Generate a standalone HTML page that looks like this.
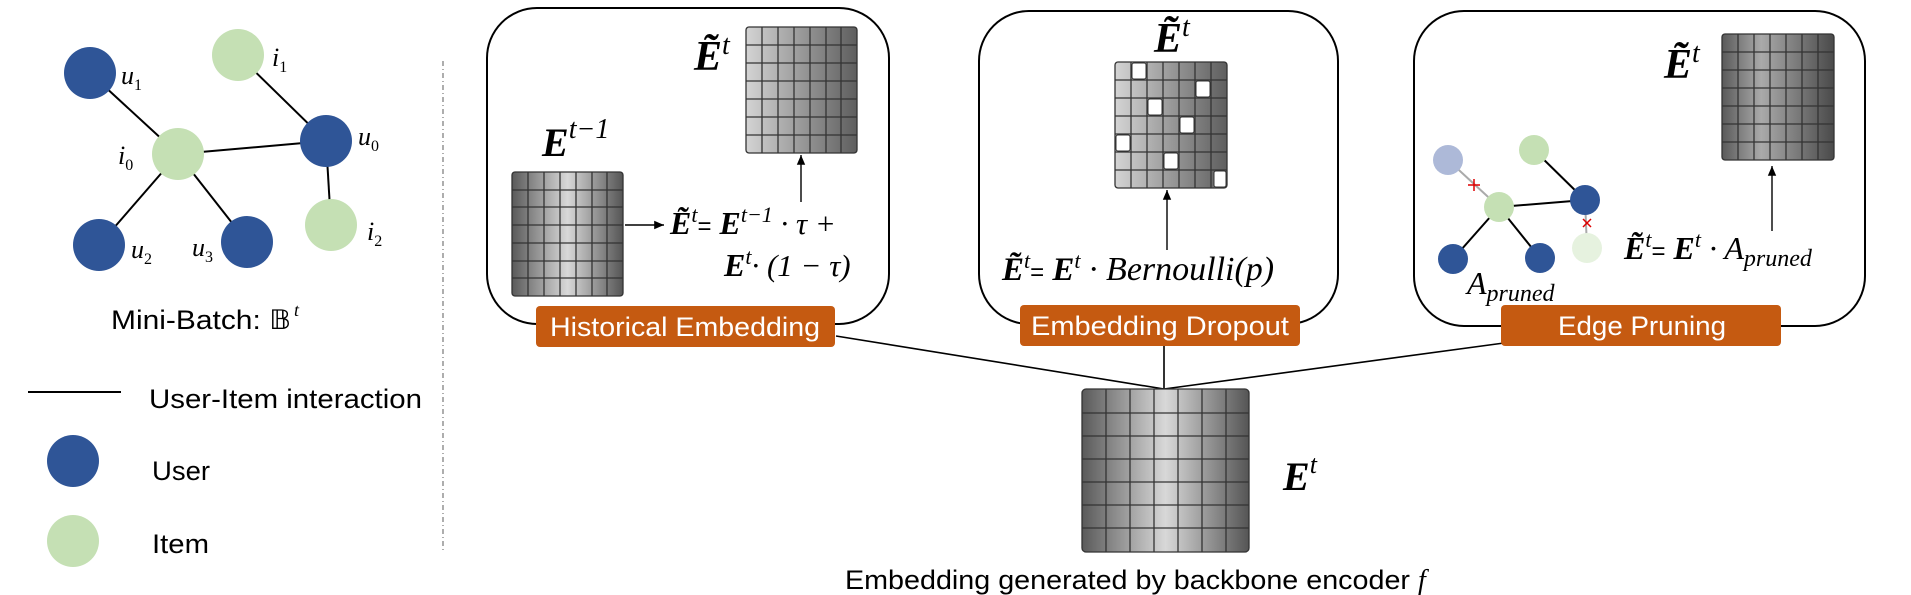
<!DOCTYPE html>
<html><head><meta charset="utf-8"><style>
html,body{margin:0;padding:0;background:#fff;}
svg{display:block;}
.s{font-family:"Liberation Sans",sans-serif;}
.m{font-family:"Liberation Serif",serif;font-style:italic;}
.b{font-family:"Liberation Serif",serif;font-style:italic;font-weight:bold;}
</style></head><body>
<svg width="1911" height="595" viewBox="0 0 1911 595" xmlns="http://www.w3.org/2000/svg">
<defs>
<linearGradient id="gC" x1="0" x2="1" y1="0" y2="0">
<stop offset="0" stop-color="#5a5a5a"/><stop offset="0.5" stop-color="#d8d8d8"/><stop offset="1" stop-color="#555"/></linearGradient>
<linearGradient id="gR" x1="0" x2="1" y1="0" y2="0">
<stop offset="0" stop-color="#d4d4d4"/><stop offset="1" stop-color="#5e5e5e"/></linearGradient>
<linearGradient id="gD" x1="0" x2="1" y1="0" y2="0">
<stop offset="0" stop-color="#5a5a5a"/><stop offset="0.35" stop-color="#aaa"/><stop offset="1" stop-color="#4a4a4a"/></linearGradient>
<marker id="ar" markerWidth="8" markerHeight="8" refX="7" refY="4" orient="auto"><path d="M0,1 L7,4 L0,7 z" fill="#000"/></marker>
</defs>

<!-- left graph -->
<g stroke="#000" stroke-width="2">
<line x1="90" y1="73" x2="178" y2="154"/><line x1="238" y1="55" x2="326" y2="141"/>
<line x1="178" y1="154" x2="326" y2="141"/><line x1="178" y1="154" x2="99" y2="245"/>
<line x1="178" y1="154" x2="247" y2="242"/><line x1="326" y1="141" x2="331" y2="225"/>
</g>
<g fill="#2f5597">
<circle cx="90" cy="73" r="26"/><circle cx="326" cy="141" r="26"/><circle cx="99" cy="245" r="26"/><circle cx="247" cy="242" r="26"/>
<circle cx="73" cy="461" r="26"/></g>
<g fill="#c5e0b4">
<circle cx="238" cy="55" r="26"/><circle cx="178" cy="154" r="26"/><circle cx="331" cy="225" r="26"/><circle cx="73" cy="541" r="26"/></g>
<g class="m" font-size="26">
<text x="121" y="84">u<tspan font-size="16" font-style="normal" dy="6">1</tspan></text>
<text x="272" y="66">i<tspan font-size="16" font-style="normal" dy="6">1</tspan></text>
<text x="118" y="164">i<tspan font-size="16" font-style="normal" dy="6">0</tspan></text>
<text x="358" y="145">u<tspan font-size="16" font-style="normal" dy="6">0</tspan></text>
<text x="131" y="258">u<tspan font-size="16" font-style="normal" dy="6">2</tspan></text>
<text x="192" y="256">u<tspan font-size="16" font-style="normal" dy="6">3</tspan></text>
<text x="367" y="240">i<tspan font-size="16" font-style="normal" dy="6">2</tspan></text>
</g>
<text class="s" x="111" y="329" font-size="27" textLength="180" lengthAdjust="spacingAndGlyphs">Mini-Batch: 𝔹</text>
<text class="m" x="294" y="316" font-size="18">t</text>
<line x1="28" y1="392" x2="121" y2="392" stroke="#000" stroke-width="2"/>
<text class="s" x="149" y="408" font-size="27" textLength="273" lengthAdjust="spacingAndGlyphs">User-Item interaction</text>
<text class="s" x="152" y="480" font-size="27" textLength="58" lengthAdjust="spacingAndGlyphs">User</text>
<text class="s" x="152" y="553" font-size="27" textLength="57" lengthAdjust="spacingAndGlyphs">Item</text>
<line x1="443" y1="61" x2="443" y2="550" stroke="#777" stroke-width="1.2" stroke-dasharray="5,3,1,3"/>

<!-- boxes -->
<g fill="none" stroke="#000" stroke-width="2">
<rect x="487" y="8" width="402" height="316" rx="50"/>
<rect x="979" y="11" width="359" height="313" rx="50"/>
<rect x="1414" y="11" width="451" height="315" rx="50"/>
</g>
<!-- connectors -->
<g stroke="#000" stroke-width="1.6">
<line x1="836" y1="336" x2="1164" y2="389"/>
<line x1="1164" y1="346" x2="1164" y2="389"/>
<line x1="1504" y1="343" x2="1164" y2="389"/>
</g>
<!-- labels -->
<g fill="#c55a11">
<rect x="536" y="306" width="299" height="41" rx="4"/>
<rect x="1020" y="305" width="280" height="41" rx="4"/>
<rect x="1501" y="305" width="280" height="41" rx="4"/>
</g>
<g class="s" fill="#fff" font-size="27" lengthAdjust="spacingAndGlyphs">
<text x="550" y="336" textLength="270" lengthAdjust="spacingAndGlyphs">Historical Embedding</text>
<text x="1031" y="335" textLength="258" lengthAdjust="spacingAndGlyphs">Embedding Dropout</text>
<text x="1558" y="335" textLength="168" lengthAdjust="spacingAndGlyphs">Edge Pruning</text>
</g>

<g stroke="#333" stroke-width="1.3">
<rect x="512" y="172" width="111" height="124" rx="3" fill="url(#gC)"/>
<path d="M512 190H623M512 207H623M512 225H623M512 243H623M512 261H623M512 278H623M528 172V296M544 172V296M560 172V296M576 172V296M592 172V296M607 172V296" fill="none"/>
<rect x="746" y="27" width="111" height="126" rx="3" fill="url(#gR)"/>
<path d="M746 45H857M746 63H857M746 81H857M746 99H857M746 117H857M746 135H857M762 27V153M778 27V153M794 27V153M810 27V153M826 27V153M841 27V153" fill="none"/>
<rect x="1115" y="62" width="112" height="126" rx="3" fill="url(#gR)"/>
<path d="M1115 80H1227M1115 98H1227M1115 116H1227M1115 134H1227M1115 152H1227M1115 170H1227M1131 62V188M1147 62V188M1163 62V188M1179 62V188M1195 62V188M1211 62V188" fill="none"/>
<rect x="1722" y="34" width="112" height="126" rx="3" fill="url(#gD)"/>
<path d="M1722 52H1834M1722 70H1834M1722 88H1834M1722 106H1834M1722 124H1834M1722 142H1834M1738 34V160M1754 34V160M1770 34V160M1786 34V160M1802 34V160M1818 34V160" fill="none"/>
<rect x="1082" y="389" width="167" height="163" rx="4" fill="url(#gC)"/>
<path d="M1082 413H1249M1082 436H1249M1082 459H1249M1082 482H1249M1082 505H1249M1082 528H1249M1106 389V552M1130 389V552M1154 389V552M1178 389V552M1202 389V552M1226 389V552" fill="none"/>
</g>
<g fill="#fff" stroke="#333" stroke-width="1">
<rect x="1132" y="63" width="14" height="16" rx="2"/>
<rect x="1196" y="81" width="14" height="16" rx="2"/>
<rect x="1148" y="99" width="14" height="16" rx="2"/>
<rect x="1180" y="117" width="14" height="16" rx="2"/>
<rect x="1116" y="135" width="14" height="16" rx="2"/>
<rect x="1164" y="153" width="14" height="16" rx="2"/>
<rect x="1214" y="171" width="12" height="16" rx="2"/>
</g>

<g stroke="#000" stroke-width="1.4" marker-end="url(#ar)">
<line x1="625" y1="225" x2="664" y2="225"/>
<line x1="801" y1="202" x2="801" y2="155"/>
<line x1="1167" y1="250" x2="1167" y2="190"/>
<line x1="1772" y1="231" x2="1772" y2="166"/>
</g>

<text class="b" x="694" y="70" font-size="42">Ẽ<tspan class="m" font-weight="normal" font-size="28" dy="-16">t</tspan></text>
<text class="b" x="542" y="156" font-size="40">E<tspan class="m" font-weight="normal" font-size="28" dy="-18">t−1</tspan></text>
<text class="b" x="670" y="234" font-size="32">Ẽ<tspan class="m" font-weight="normal" font-size="22" dy="-12">t</tspan><tspan font-style="normal" font-weight="normal" class="s" font-size="24" dy="12">=</tspan> E<tspan class="m" font-weight="normal" font-size="22" dy="-12">t−1</tspan><tspan class="m" font-weight="normal" font-size="31" dy="12"> · τ +</tspan></text>
<text class="b" x="724" y="276" font-size="32">E<tspan class="m" font-weight="normal" font-size="22" dy="-12">t</tspan><tspan class="m" font-weight="normal" font-size="31" dy="12">· (1 − τ)</tspan></text>

<text class="b" x="1154" y="52" font-size="42">Ẽ<tspan class="m" font-weight="normal" font-size="28" dy="-16">t</tspan></text>
<text class="b" x="1002" y="280" font-size="33">Ẽ<tspan class="m" font-weight="normal" font-size="22" dy="-12">t</tspan><tspan class="s" font-style="normal" font-weight="normal" font-size="24" dy="12">=</tspan> E<tspan class="m" font-weight="normal" font-size="22" dy="-12">t</tspan><tspan class="m" font-weight="normal" font-size="34" dy="12"> · Bernoulli(p)</tspan></text>

<text class="b" x="1664" y="78" font-size="42">Ẽ<tspan class="m" font-weight="normal" font-size="28" dy="-16">t</tspan></text>
<text class="b" x="1624" y="259" font-size="32">Ẽ<tspan class="m" font-weight="normal" font-size="22" dy="-12">t</tspan><tspan class="s" font-style="normal" font-weight="normal" font-size="24" dy="12">=</tspan> E<tspan class="m" font-weight="normal" font-size="22" dy="-12">t</tspan><tspan class="m" font-weight="normal" font-size="32" dy="12"> · A<tspan font-size="24" dy="7">pruned</tspan></tspan></text>

<g stroke-width="2">
<line x1="1448" y1="160" x2="1499" y2="207" stroke="#aaa"/>
<line x1="1534" y1="150" x2="1585" y2="200" stroke="#000"/>
<line x1="1499" y1="207" x2="1585" y2="200" stroke="#000"/>
<line x1="1499" y1="207" x2="1453" y2="259" stroke="#000"/>
<line x1="1499" y1="207" x2="1540" y2="258" stroke="#000"/>
<line x1="1585" y1="200" x2="1587" y2="248" stroke="#aaa"/>
</g>
<circle cx="1448" cy="160" r="15" fill="#adb9d8"/>
<circle cx="1534" cy="150" r="15" fill="#c5e0b4"/>
<circle cx="1499" cy="207" r="15" fill="#c5e0b4"/>
<circle cx="1585" cy="200" r="15" fill="#2f5597"/>
<circle cx="1587" cy="248" r="15" fill="#e6f2df"/>
<circle cx="1453" cy="259" r="15" fill="#2f5597"/>
<circle cx="1540" cy="258" r="15" fill="#2f5597"/>
<g stroke="#d00" stroke-width="1.5">
<path d="M1468 185H1480M1474 179V191"/>
<path d="M1583 219L1591 227M1591 219L1583 227"/>
</g>
<text class="m" x="1467" y="294" font-size="32">A<tspan font-size="24" dy="7">pruned</tspan></text>

<text class="b" x="1283" y="490" font-size="40">E<tspan class="m" font-weight="normal" font-size="26" dy="-17">t</tspan></text>
<text class="s" x="845" y="589" font-size="27" textLength="565" lengthAdjust="spacingAndGlyphs">Embedding generated by backbone encoder</text>
<text class="m" x="1418" y="589" font-size="28">f</text>
</svg>
</body></html>
